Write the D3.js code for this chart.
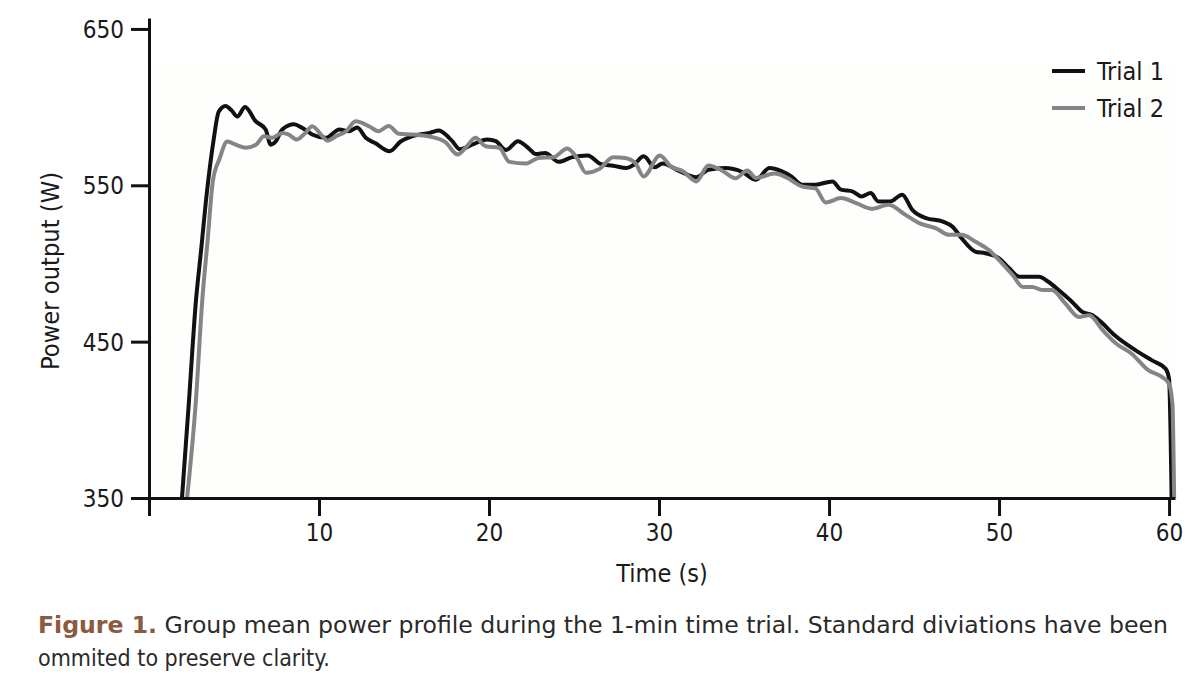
<!DOCTYPE html>
<html>
<head>
<meta charset="utf-8">
<script src="https://cdn.jsdelivr.net/npm/d3@7"></script>
<style>
  html, body { margin: 0; padding: 0; background: #ffffff; }
  svg { display: block; }
  text { font-family: 'DejaVu Sans Condensed', 'DejaVu Sans', sans-serif; font-stretch: condensed; }
</style>
</head>
<body>
<svg id="chart" width="1200" height="689"></svg>
<script>
// ---- Data ----
const trial1Time = [1.94,2.35,2.76,3.06,3.4,3.8,4.1,4.5,4.85,5.2,5.65,6.27,6.86,7.16,7.45,7.84,8.53,9.0,9.6,10.4,11.2,11.76,12.25,12.75,13.3,14.15,14.8,15.5,16.5,17.06,17.45,17.84,18.3,19.0,19.9,20.4,21.0,21.7,22.3,22.75,23.3,24.1,24.9,25.8,26.6,27.3,28.1,28.5,29.1,29.75,30.2,31.2,32.2,32.9,33.9,34.9,35.7,36.5,37.2,37.8,38.4,39.2,40.2,40.7,41.4,41.9,42.45,42.9,43.6,44.3,44.9,45.7,46.7,47.25,47.8,48.6,49.2,50.0,50.6,51.2,52.35,52.9,53.5,54.3,54.9,55.5,56.1,56.7,57.45,58.2,59.0,59.8,60.0,60.15];
const trial1Power = [350,412,476,508,545,579,597,600.7,598,594,600,591,585.7,576,578,585.7,589,586.8,582.5,580.4,585.7,584.6,587,580.4,577,571.8,578,581.5,583.5,585,582.5,578.2,573,576,579.3,578.2,572.5,578.2,574,570,570.7,565,568,569,563.5,562.5,561,563,568.5,561.5,564,559,555.2,560,561,558.5,553.6,561,559,555.5,550.4,550.4,552.5,547.2,546,542.9,545,539.7,539.7,544,534.3,529,526.8,523.6,516.1,507.6,506.5,503.3,496.9,491.5,491.5,488.3,483,475.4,469,466.9,461.6,455.1,448.7,443.3,438,432.6,426.2,350];

const trial2Time = [2.24,2.75,3.13,3.45,3.76,4.15,4.6,5.1,5.7,6.3,6.76,7.25,7.84,8.2,8.7,9.2,9.6,10.2,10.5,11.0,11.6,12.15,12.94,13.5,14.1,14.7,15.5,16.6,17.45,18.15,18.7,19.2,19.8,20.6,21.2,22.2,22.9,23.8,24.6,25.2,25.7,26.5,27.3,28.0,28.6,29.1,30.05,30.7,31.4,32.2,32.9,33.7,34.5,35.2,35.7,36.8,37.5,38.4,39.2,39.8,40.7,41.6,42.5,43.5,44.5,45.3,46.3,47.06,47.8,48.6,49.4,50.0,50.8,51.4,51.96,52.55,53.1,53.9,54.7,55.3,56.1,56.9,57.8,58.8,59.6,60.0,60.2,60.3];
const trial2Power = [350,411,476,515,553,567,578,576,574,576,581.4,580.4,583.5,582.5,579.3,583.5,587.8,581.4,578.5,581.4,584.6,591,587.8,584.6,588,583,582.5,581,577.5,569.7,575,580.4,575,574,565,564,567.5,568,573.5,567,558,560.5,568,567.5,564.3,555.7,569,562,559,552.5,562.7,559.5,554.5,559.5,554.7,557.5,555,549.3,548,539,541.8,538.6,535,537.5,531.1,525.8,522.5,518.3,518.3,514,508.6,502.2,492.6,485,485,483,483,474.4,465.8,466.9,457.3,448.7,442.3,431.6,427.3,423,410,350];

const seriesNames = ["Trial 1", "Trial 2"];
const seriesColors = ["#111111", "#858585"];
const xTickValues = [0, 10, 20, 30, 40, 50, 60];
const yTickValues = [350, 450, 550, 650];
const xTitle = "Time (s)";
const yTitle = "Power output (W)";
const captionLead = "Figure 1.";
const captionLine1 = " Group mean power profile during the 1-min time trial. Standard diviations have been";
const captionLine2 = "ommited to preserve clarity.";

// ---- Chart ----
const svg = d3.select("#chart");
const x = d3.scaleLinear().domain([0, 60.35]).range([149, 1175]);
const y = d3.scaleLinear().domain([350, 657]).range([498, 18]);

const tickFont = 24;
const titleFont = 25;
const textColor = "#1a1a1a";

// faint plot background
svg.append("rect")
  .attr("x", x(0)).attr("y", y(628)).attr("width", x(60.35) - x(0)).attr("height", y(350) - y(628) - 2)
  .attr("fill", "#fefefd");

// lines
const series = [
  { name: seriesNames[0], color: seriesColors[0], data: trial1Time.map((t, i) => [t, trial1Power[i]]) },
  { name: seriesNames[1], color: seriesColors[1], data: trial2Time.map((t, i) => [t, trial2Power[i]]) }
];
const line = d3.line().x(d => x(d[0])).y(d => y(d[1])).curve(d3.curveMonotoneX);
svg.append("g").selectAll("path").data(series).join("path")
  .attr("d", d => line(d.data))
  .attr("fill", "none")
  .attr("stroke", d => d.color)
  .attr("stroke-width", 4)
  .attr("stroke-linejoin", "round")
  .attr("stroke-linecap", "butt");

// axes
const xAxis = d3.axisBottom(x).tickValues(xTickValues).tickSize(18).tickSizeOuter(0)
  .tickFormat(d => d === 0 ? "" : d);
const gx = svg.append("g").attr("transform", `translate(0,${y(350)})`).call(xAxis);
gx.select(".domain").attr("stroke", "#111").attr("stroke-width", 3);
gx.selectAll(".tick line").attr("stroke", "#111").attr("stroke-width", 3);
gx.selectAll(".tick text").attr("fill", textColor).attr("font-size", tickFont)
  .attr("font-family", null).attr("dy", "1.0em").attr("y", 19);

const yAxis = d3.axisLeft(y).tickValues(yTickValues).tickSize(18).tickSizeOuter(0);
const gy = svg.append("g").attr("transform", `translate(${x(0)},0)`).call(yAxis);
gy.select(".domain").attr("stroke", "#111").attr("stroke-width", 3);
gy.selectAll(".tick line").attr("stroke", "#111").attr("stroke-width", 3);
gy.selectAll(".tick text").attr("fill", textColor).attr("font-size", tickFont)
  .attr("font-family", null).attr("x", -25).attr("dy", "0.36em");

// axis titles
svg.append("text").attr("x", 662).attr("y", 582).attr("text-anchor", "middle")
  .attr("font-size", titleFont).attr("fill", textColor).text(xTitle);
svg.append("text").attr("transform", "translate(59,271) rotate(-90)").attr("text-anchor", "middle")
  .attr("font-size", titleFont).attr("fill", textColor)
  .attr("textLength", 198).attr("lengthAdjust", "spacingAndGlyphs").text(yTitle);

// legend
const leg = svg.append("g").selectAll("g").data(series).join("g")
  .attr("transform", (d, i) => `translate(1052,${71 + i * 37})`);
leg.append("line").attr("x1", 0).attr("x2", 33).attr("y1", 0).attr("y2", 0)
  .attr("stroke", d => d.color).attr("stroke-width", 4);
leg.append("text").attr("x", 45).attr("dy", "0.36em").attr("font-size", titleFont)
  .attr("fill", textColor).text(d => d.name);

// caption
const cap = svg.append("text").attr("x", 38).attr("y", 633).attr("font-size", 23)
  .attr("textLength", 1130).attr("lengthAdjust", "spacingAndGlyphs");
cap.append("tspan").attr("fill", "#8b5a40").attr("font-weight", "bold").text(captionLead);
cap.append("tspan").attr("fill", "#2a2a2a").text(captionLine1);
svg.append("text").attr("x", 38).attr("y", 666).attr("font-size", 23)
  .attr("fill", "#2a2a2a").text(captionLine2);
</script>
</body>
</html>
